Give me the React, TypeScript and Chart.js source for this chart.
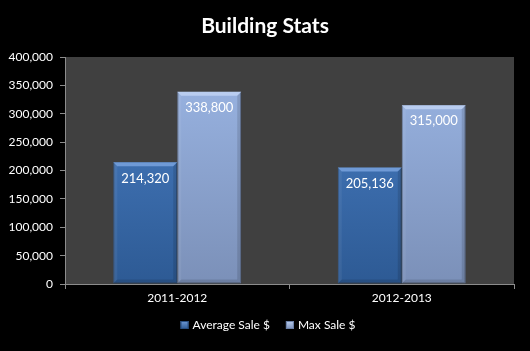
import React, { useEffect, useRef } from "react";
import { Chart, registerables } from "chart.js";

Chart.register(...registerables);

const categories = ["2011-2012", "2012-2013"];
const averageSale = [214320, 205136];
const maxSale = [338800, 315000];
const seriesNames = ["Average Sale $", "Max Sale $"];
const yTicks = [0, 50000, 100000, 150000, 200000, 250000, 300000, 350000, 400000];
const titleText = "Building Stats";

const FONT = "Lato, 'Open Sans', sans-serif";

const palettes = [
  { top: "#4b80c6", bottom: "#2d5a94", hi: "#6f9ad6", edge: "#284f82" },
  { top: "#9bb6e5", bottom: "#7b90b8", hi: "#b9cdf0", edge: "#6a7fa6" },
];

function fmt(v: number) {
  return v.toLocaleString("en-US");
}

export default function App() {
  const ref = useRef<HTMLCanvasElement | null>(null);

  useEffect(() => {
    document.body.style.margin = "0";
    document.body.style.background = "#000";
    const canvas = ref.current!;

    const makeGrad = (ctx: any, area: any, i: number) => {
      if (!area) return palettes[i].top;
      const g = ctx.createLinearGradient(0, area.top, 0, area.bottom);
      g.addColorStop(0, palettes[i].top);
      g.addColorStop(1, palettes[i].bottom);
      return g;
    };

    const bgPlugin = {
      id: "bg",
      beforeDraw(chart: any) {
        const { ctx, chartArea: a, width, height } = chart;
        ctx.save();
        ctx.fillStyle = "#000";
        ctx.fillRect(0, 0, width, height);
        ctx.fillStyle = "#404040";
        ctx.fillRect(a.left, a.top, a.right - a.left, a.bottom - a.top);
        ctx.restore();
      },
    };

    const decoPlugin = {
      id: "deco",
      afterDatasetsDraw(chart: any) {
        const { ctx } = chart;
        ctx.save();
        chart.data.datasets.forEach((ds: any, di: number) => {
          const meta = chart.getDatasetMeta(di);
          meta.data.forEach((bar: any, i: number) => {
            const left = bar.x - bar.width / 2;
            const right = bar.x + bar.width / 2;
            const top = bar.y;
            const bottom = bar.base;
            ctx.fillStyle = palettes[di].hi;
            ctx.beginPath();
            ctx.moveTo(left, top);
            ctx.lineTo(right, top);
            ctx.lineTo(right - 4, top + 4);
            ctx.lineTo(left + 4, top + 4);
            ctx.closePath();
            ctx.fill();
            ctx.fillStyle = "rgba(0,0,0,0.12)";
            ctx.beginPath();
            ctx.moveTo(right, top);
            ctx.lineTo(right, bottom);
            ctx.lineTo(right - 4, bottom - 4);
            ctx.lineTo(right - 4, top + 4);
            ctx.closePath();
            ctx.fill();
            ctx.beginPath();
            ctx.moveTo(left, bottom);
            ctx.lineTo(right, bottom);
            ctx.lineTo(right - 4, bottom - 4);
            ctx.lineTo(left + 4, bottom - 4);
            ctx.closePath();
            ctx.fill();
            ctx.fillStyle = "rgba(255,255,255,0.06)";
            ctx.beginPath();
            ctx.moveTo(left, top);
            ctx.lineTo(left + 4, top + 4);
            ctx.lineTo(left + 4, bottom - 4);
            ctx.lineTo(left, bottom);
            ctx.closePath();
            ctx.fill();
            ctx.fillStyle = "#ffffff";
            ctx.font = `13px ${FONT}`;
            ctx.textAlign = "center";
            ctx.textBaseline = "middle";
            ctx.fillText(fmt(ds.data[i]), bar.x, top + 16);
          });
        });
        ctx.fillStyle = "#ffffff";
        ctx.font = `bold 21px ${FONT}`;
        ctx.textAlign = "center";
        ctx.textBaseline = "middle";
        ctx.fillText(titleText, 265, 26);
        ctx.font = `12px ${FONT}`;
        ctx.textBaseline = "middle";
        ctx.textAlign = "left";
        const box = 8;
        const gapBoxText = 4;
        const gapItems = 16;
        const widths = seriesNames.map((n) => box + gapBoxText + ctx.measureText(n).width);
        const total = widths.reduce((a, b) => a + b, 0) + gapItems * (seriesNames.length - 1);
        let x = 268 - total / 2;
        const ly = 325;
        seriesNames.forEach((n, i) => {
          const g = ctx.createLinearGradient(0, ly - box / 2, 0, ly + box / 2);
          g.addColorStop(0, palettes[i].hi);
          g.addColorStop(1, palettes[i].bottom);
          ctx.fillStyle = g;
          ctx.fillRect(x, ly - box / 2, box, box);
          ctx.strokeStyle = palettes[i].edge;
          ctx.lineWidth = 1;
          ctx.strokeRect(x + 0.5, ly - box / 2 + 0.5, box - 1, box - 1);
          ctx.fillStyle = "#ffffff";
          ctx.fillText(n, x + box + gapBoxText, ly);
          x += widths[i] + gapItems;
        });
        ctx.restore();
      },
    };

    const chart = new Chart(canvas, {
      type: "bar",
      data: {
        labels: categories,
        datasets: [averageSale, maxSale].map((d, i) => ({
          label: seriesNames[i],
          data: d,
          backgroundColor: (c: any) => makeGrad(c.chart.ctx, c.chart.chartArea, i),
          borderColor: palettes[i].edge,
          borderWidth: 1,
          borderSkipped: false,
          barPercentage: 1.0,
          categoryPercentage: 0.57,
        })),
      },
      options: {
        responsive: false,
        animation: false,
        devicePixelRatio: 1,
        layout: { padding: { top: 57, right: 16, left: 0, bottom: 0 } },
        plugins: {
          legend: { display: false },
          title: { display: false },
          tooltip: { enabled: false },
        },
        scales: {
          x: {
            grid: {
              display: true,
              drawOnChartArea: false,
              drawTicks: true,
              tickLength: 5,
              color: "#8c8c8c",
              offset: true,
            },
            border: { display: true, color: "#8c8c8c", width: 1 },
            ticks: {
              color: "#ffffff",
              font: { family: FONT, size: 12 },
              padding: 2,
              maxRotation: 0,
            },
            afterFit(scale: any) {
              scale.height = 67;
            },
          },
          y: {
            min: 0,
            max: 400000,
            afterBuildTicks(scale: any) {
              scale.ticks = yTicks.map((v) => ({ value: v }));
            },
            grid: {
              display: true,
              drawOnChartArea: false,
              drawTicks: true,
              tickLength: 5,
              color: "#8c8c8c",
            },
            border: { display: true, color: "#8c8c8c", width: 1 },
            ticks: {
              color: "#ffffff",
              font: { family: FONT, size: 12 },
              padding: 7,
              callback: (v: any) => fmt(Number(v)),
            },
            afterFit(scale: any) {
              scale.width = 65;
            },
          },
        },
      },
      plugins: [bgPlugin, decoPlugin],
    });
    return () => chart.destroy();
  }, []);

  return <canvas ref={ref} width={530} height={351} style={{ display: "block" }} />;
}
